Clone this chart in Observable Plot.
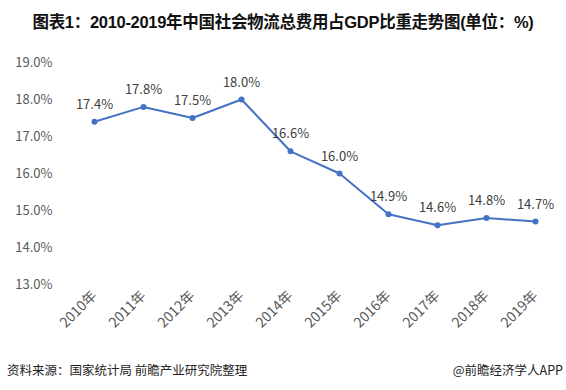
<!DOCTYPE html>
<html>
<head>
<meta charset="utf-8">
<script src="https://cdn.jsdelivr.net/npm/d3@7"></script>
<script src="https://cdn.jsdelivr.net/npm/@observablehq/plot@0.6"></script>
<style>
  html, body { margin: 0; padding: 0; background: #fff; }
  #wrap { width: 566px; height: 390px; position: relative; overflow: hidden; font-family: "Noto Sans CJK SC", "Liberation Sans", sans-serif; }
  #title { height: 44px; line-height: 44px; text-align: center; font-size: 16.5px; font-weight: bold; color: #111; font-family: "Liberation Sans", "Noto Sans CJK SC", sans-serif; letter-spacing: -0.3px; }
  #footer { position: absolute; left: 0; right: 0; top: 360px; height: 22px; font-size: 12.5px; color: #222; }
  #footer .l { position: absolute; left: 7px; top: 0; }
  #footer .r { position: absolute; right: 3px; top: 0; }
</style>
</head>
<body>
<div id="wrap">
  <div id="title">图表1：2010-2019年中国社会物流总费用占GDP比重走势图(单位：%)</div>
  <div id="chart"></div>
  <div id="footer"><span class="l">资料来源：国家统计局 前瞻产业研究院整理</span><span class="r">@前瞻经济学人APP</span></div>
</div>
<script>
// Share of total social logistics cost in GDP, 2010–2019 (%)
const years = ["2010年","2011年","2012年","2013年","2014年","2015年","2016年","2017年","2018年","2019年"];
const shares = [17.4, 17.8, 17.5, 18.0, 16.6, 16.0, 14.9, 14.6, 14.8, 14.7];
const yTicks = [13, 14, 15, 16, 17, 18, 19];

const rows = years.map((year, i) => ({year, share: shares[i]}));
const blue = "#4472C4";
const fmt = v => v.toFixed(1) + "%";

const chart = Plot.plot({
  width: 566,
  height: 314,
  marginTop: 18,
  marginLeft: 67,
  marginRight: 5,
  marginBottom: 74,
  style: {fontFamily: "'Noto Sans CJK SC', sans-serif", fontSize: "13px", color: "#595959", background: "transparent"},
  x: {type: "point", domain: years, padding: 0.5, label: null},
  y: {domain: [13, 19], label: null},
  marks: [
    Plot.gridY(yTicks, {stroke: "#d9d9d9", strokeOpacity: 1, x1: 67, x2: 556}),
    Plot.axisY(yTicks, {tickSize: 0, tickPadding: 15, tickFormat: fmt, fontSize: 13, fill: "#595959", label: null}),
    Plot.axisX({tickSize: 0, tickPadding: 9, tickRotate: -45, fontSize: 14, fill: "#595959", label: null}),
    Plot.line(rows, {x: "year", y: "share", stroke: blue, strokeWidth: 2}),
    Plot.dot(rows, {x: "year", y: "share", fill: blue, r: 3}),
    Plot.text(rows, {x: "year", y: "share", text: d => fmt(d.share), dy: -17, fontSize: 13, fill: "#404040"})
  ]
});
document.getElementById("chart").appendChild(chart);
</script>
</body>
</html>
